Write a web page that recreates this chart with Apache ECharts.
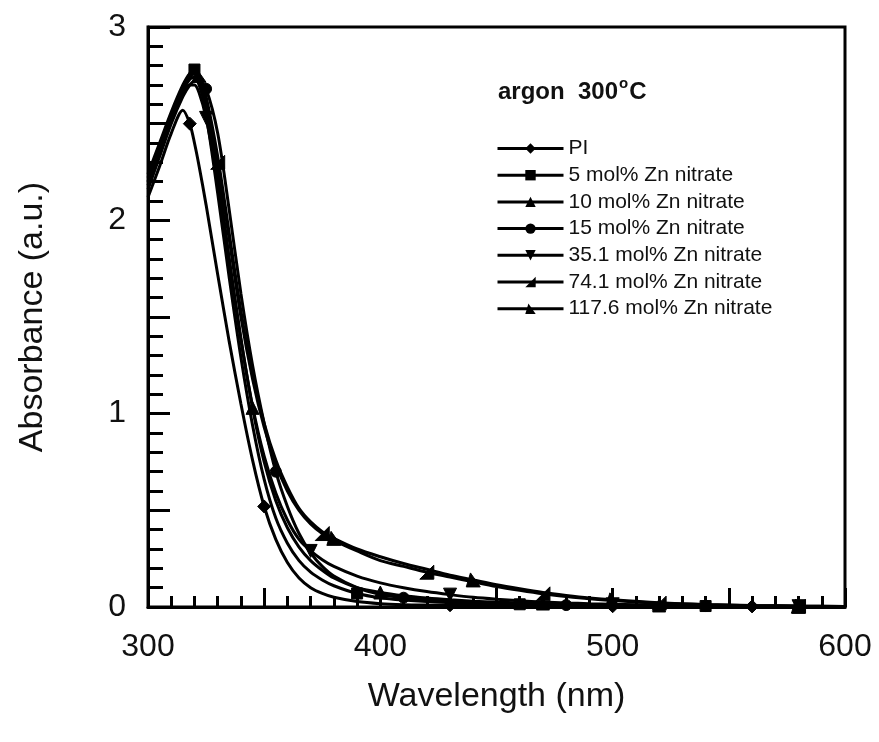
<!DOCTYPE html>
<html>
<head>
<meta charset="utf-8">
<script src="https://cdn.jsdelivr.net/npm/echarts@6/dist/echarts.min.js"></script>
<style>
  html, body { margin: 0; padding: 0; background: #fff; }
  #main { width: 879px; height: 742px; }
</style>
</head>
<body>
<div id="main"></div>
<script>
// wavelength grid (nm)
var wavelengths = [300, 305, 310, 315, 318, 320, 322, 325, 330, 335, 340, 345, 350, 355, 360, 365, 370, 375, 380,
	390, 400, 410, 420, 430, 440, 450, 460, 470, 480, 490, 500, 520, 540, 560, 580, 600];

// absorbance values
var absPI = [2.12, 2.28, 2.45, 2.57, 2.50, 2.40, 2.28, 2.08, 1.72, 1.37, 1.05, 0.76, 0.52, 0.35, 0.23, 0.15, 0.10, 0.07, 0.05,
	0.028, 0.017, 0.012, 0.010, 0.009, 0.008, 0.007, 0.006, 0.006, 0.005, 0.005, 0.004, 0.004, 0.003, 0.003, 0.002, 0.002];
var abs5 = [2.18, 2.35, 2.52, 2.68, 2.76, 2.78, 2.72, 2.55, 2.14, 1.70, 1.29, 0.94, 0.66, 0.46, 0.33, 0.24, 0.18, 0.14, 0.11,
	0.07, 0.048, 0.036, 0.028, 0.023, 0.019, 0.016, 0.014, 0.012, 0.010, 0.009, 0.008, 0.006, 0.005, 0.004, 0.003, 0.002];
var abs10 = [2.20, 2.37, 2.53, 2.67, 2.73, 2.74, 2.70, 2.58, 2.24, 1.80, 1.39, 1.03, 0.75, 0.55, 0.41, 0.31, 0.24, 0.19, 0.15,
	0.10, 0.075, 0.058, 0.046, 0.037, 0.030, 0.025, 0.021, 0.018, 0.015, 0.013, 0.011, 0.008, 0.006, 0.004, 0.003, 0.002];
var abs15 = [2.16, 2.33, 2.50, 2.64, 2.70, 2.72, 2.72, 2.68, 2.45, 2.05, 1.62, 1.25, 0.95, 0.70, 0.52, 0.38, 0.28, 0.21, 0.16,
	0.10, 0.065, 0.048, 0.036, 0.028, 0.022, 0.018, 0.015, 0.012, 0.010, 0.009, 0.008, 0.006, 0.005, 0.004, 0.003, 0.002];
var abs35 = [2.22, 2.38, 2.54, 2.66, 2.70, 2.70, 2.66, 2.53, 2.20, 1.78, 1.38, 1.04, 0.78, 0.59, 0.45, 0.35, 0.29, 0.245, 0.21,
	0.16, 0.125, 0.10, 0.08, 0.064, 0.050, 0.040, 0.032, 0.026, 0.021, 0.017, 0.014, 0.010, 0.007, 0.005, 0.004, 0.003];
var abs74 = [2.20, 2.36, 2.53, 2.67, 2.74, 2.76, 2.73, 2.62, 2.30, 1.90, 1.50, 1.18, 0.93, 0.74, 0.60, 0.50, 0.43, 0.38, 0.345,
	0.29, 0.24, 0.21, 0.18, 0.155, 0.13, 0.106, 0.086, 0.068, 0.054, 0.042, 0.033, 0.020, 0.012, 0.007, 0.004, 0.002];
var abs117 = [2.24, 2.40, 2.56, 2.70, 2.76, 2.77, 2.75, 2.64, 2.33, 1.93, 1.53, 1.20, 0.95, 0.76, 0.62, 0.51, 0.44, 0.39, 0.355,
	0.30, 0.26, 0.225, 0.195, 0.165, 0.14, 0.115, 0.094, 0.075, 0.060, 0.047, 0.037, 0.022, 0.013, 0.008, 0.005, 0.003];

// wavelengths where a marker is drawn on each curve
var markPI = [318, 350, 430, 500, 560];
var mark5 = [320, 390, 460, 540];
var mark10 = [345, 400, 470, 520, 580];
var mark15 = [325, 355, 410, 480, 540];
var mark35 = [325, 370, 430, 500, 580];
var mark74 = [330, 375, 420, 470, 520, 580];
var mark117 = [322, 380, 440, 500, 580];

var xTicks = [300, 400, 500, 600];
var yTicks = [0, 1, 2, 3];

var FONT = '"Liberation Sans", Arial, sans-serif';

var myChart = echarts.init(document.getElementById('main'));

function makeSeries(name, vals, marks, symbol, size) {
	var pts = [];
	for (var i = 0; i < wavelengths.length; i++) {
		var p = { value: [wavelengths[i], vals[i]] };
		if (marks.indexOf(wavelengths[i]) < 0) p.symbol = 'none';
		pts.push(p);
	}
	return {
		name: name,
		type: 'line',
		data: pts,
		smooth: 0.3,
		symbol: symbol,
		symbolSize: size,
		showAllSymbol: true,
		lineStyle: { color: '#000', width: 3 },
		itemStyle: { color: '#000', borderColor: '#000' },
		emphasis: { disabled: true },
		z: 3
	};
}

var option = {
	backgroundColor: '#fff',
	animation: false,
	textStyle: { fontFamily: FONT },
	grid: {
		left: 148,
		right: 34,
		top: 27,
		bottom: 135,
		show: true,
		borderColor: '#000',
		borderWidth: 3,
		backgroundColor: 'transparent'
	},
	legend: {
		orient: 'vertical',
		left: 491,
		top: 133,
		itemWidth: 66,
		itemHeight: 13,
		itemGap: 5.7,
		lineStyle: { width: 3 },
		textStyle: { fontSize: 21, lineHeight: 21, color: '#111', fontFamily: FONT },
		data: ['PI', '5 mol% Zn nitrate', '10 mol% Zn nitrate', '15 mol% Zn nitrate',
			'35.1 mol% Zn nitrate', '74.1 mol% Zn nitrate', '117.6 mol% Zn nitrate']
	},
	graphic: [{
		type: 'text',
		left: 498,
		top: 76,
		style: {
			text: '{a|argon  300}{s|o}{a|C}',
			rich: {
				a: { fontSize: 24, fontWeight: 'bold', fontFamily: FONT, fill: '#111', lineHeight: 28, verticalAlign: 'bottom' },
				s: { fontSize: 15, fontWeight: 'bold', fontFamily: FONT, fill: '#111', lineHeight: 28, verticalAlign: 'top', padding: [0, 1, 14, 1] }
			}
		}
	}],
	xAxis: {
		type: 'value',
		min: 300,
		max: 600,
		interval: 50,
		name: 'Wavelength (nm)',
		nameLocation: 'middle',
		nameGap: 73,
		nameTextStyle: { fontSize: 34, color: '#111', fontFamily: FONT },
		axisLine: { show: true, onZero: false, lineStyle: { color: '#000', width: 3 } },
		axisTick: { show: true, inside: true, length: 19, lineStyle: { color: '#000', width: 3 } },
		minorTick: { show: true, splitNumber: 5, length: 11, lineStyle: { color: '#000', width: 3 } },
		axisLabel: {
			fontSize: 32,
			color: '#111',
			margin: 24,
			formatter: function (v) { return xTicks.indexOf(v) >= 0 ? String(v) : ''; }
		},
		splitLine: { show: false }
	},
	yAxis: {
		type: 'value',
		min: 0,
		max: 3,
		interval: 0.5,
		name: 'Absorbance (a.u.)',
		nameLocation: 'middle',
		nameGap: 98,
		nameTextStyle: { fontSize: 34, color: '#111', fontFamily: FONT },
		axisLine: { show: true, onZero: false, lineStyle: { color: '#000', width: 3 } },
		axisTick: { show: true, inside: true, length: 22, lineStyle: { color: '#000', width: 3 } },
		minorTick: { show: true, splitNumber: 5, length: 15, lineStyle: { color: '#000', width: 3 } },
		axisLabel: {
			fontSize: 32,
			color: '#111',
			margin: 22,
			formatter: function (v) { return yTicks.indexOf(v) >= 0 ? String(v) : ''; }
		},
		splitLine: { show: false }
	},
	series: [
		makeSeries('PI', absPI, markPI, 'diamond', 13),
		makeSeries('5 mol% Zn nitrate', abs5, mark5, 'rect', 11),
		makeSeries('10 mol% Zn nitrate', abs10, mark10, 'triangle', 13),
		makeSeries('15 mol% Zn nitrate', abs15, mark15, 'circle', 11),
		makeSeries('35.1 mol% Zn nitrate', abs35, mark35, 'path://M0,0 L10,0 L5,10 Z', 13),
		makeSeries('74.1 mol% Zn nitrate', abs74, mark74, 'path://M0,10 L10,0 L10,10 Z', 14),
		makeSeries('117.6 mol% Zn nitrate', abs117, mark117, 'path://M0,10 L3,0 L10,10 Z', 14)
	]
};

myChart.setOption(option);
</script>
</body>
</html>
